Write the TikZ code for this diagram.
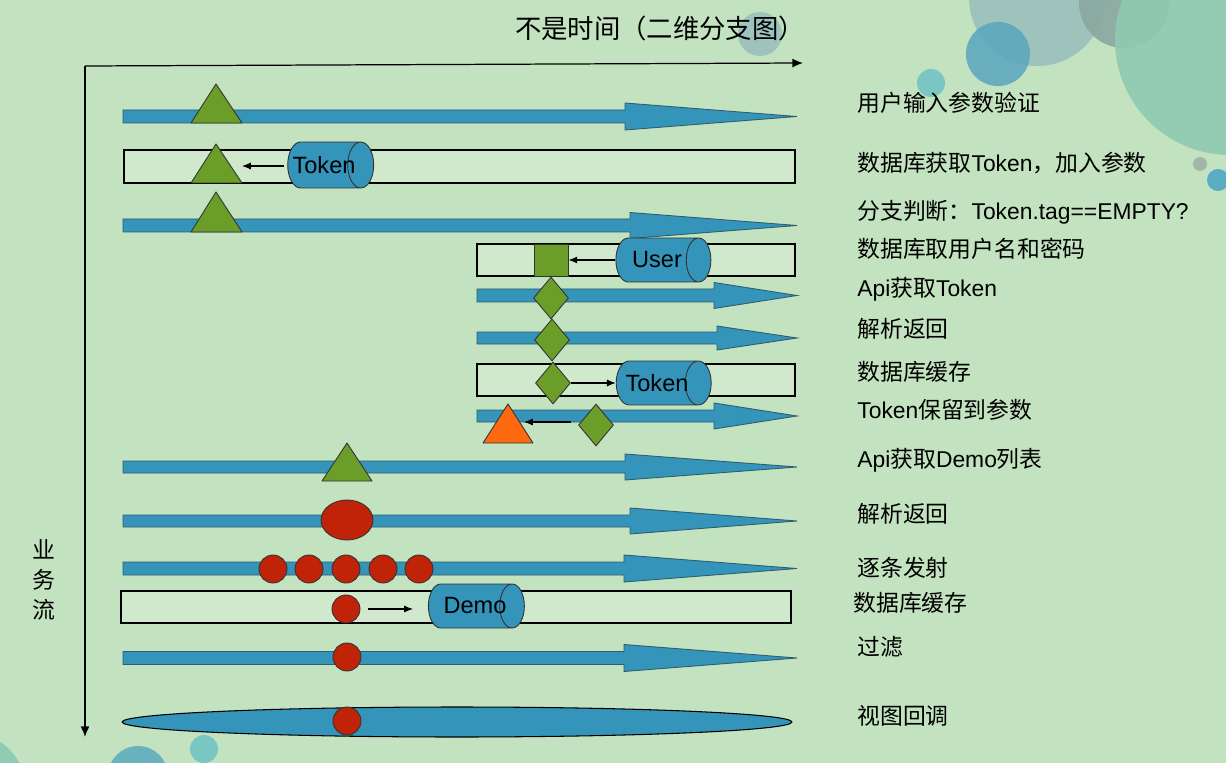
\documentclass[tikz,border=0pt]{standalone}
\usepackage{fontspec}
\setmainfont{Liberation Sans}
\newfontfamily\cjk{Noto Sans CJK SC}
\usetikzlibrary{shapes.geometric,arrows.meta}
\definecolor{bg}{HTML}{C3E2BF}
\definecolor{barlight}{HTML}{D0E8CC}
\definecolor{bblue}{HTML}{3494BA}
\definecolor{bline}{HTML}{2E5E6E}
\definecolor{tgreen}{HTML}{6B9E28}
\definecolor{tred}{HTML}{C02308}
\definecolor{torange}{HTML}{FF6A10}
\begin{document}
\begin{tikzpicture}[x=0.02cm,y=-0.02cm,
  lab/.style={anchor=west,inner sep=0,font=\fontsize{13}{15}\selectfont},
  barrow/.style={fill=bblue,draw=bline,line width=0.5pt},
  barbox/.style={fill=barlight,draw=black,line width=0.6pt},
  tristyle/.style={draw=black!80,line width=0.5pt,line join=round},
  cyl/.style={cylinder,draw=black!80,fill=bblue,shape aspect=1.5,inner sep=0,line width=0.5pt,font=\fontsize{13.4}{15}\selectfont},
  dia/.style={diamond,draw=black!80,fill=tgreen,minimum width=0.7cm,minimum height=0.84cm,inner sep=0,line width=0.5pt},
  dot/.style={circle,draw=black!80,fill=tred,minimum size=0.56cm,inner sep=0,line width=0.5pt},
  conn/.style={-{Latex[length=5pt,width=4pt]},line width=0.6pt},
  axis/.style={-{Latex[length=6pt,width=5pt]},line width=0.7pt}]
\useasboundingbox (0,0) rectangle (1226,763);
\clip (0,0) rectangle (1226,763);
\fill[bg] (0,0) rectangle (1226,763);
% decorations
\fill[color={rgb,255:red,157;green,195;blue,188}] (1037,-2) circle (68);
\fill[color={rgb,255:red,138;green,168;blue,159},fill opacity=0.9] (1124,3) circle (45);
\fill[color={rgb,255:red,142;green,202;blue,176},fill opacity=0.9] (1230,40) circle (115);
\fill[color={rgb,255:red,90;green,166;blue,190},fill opacity=0.85] (998,54) circle (32);
\fill[color={rgb,255:red,122;green,198;blue,194}] (931,83) circle (14);
\fill[color={rgb,255:red,163;green,181;blue,168}] (1200,164) circle (7);
\fill[color={rgb,255:red,90;green,173;blue,194}] (1218,180) circle (11);
\fill[color={rgb,255:red,157;green,195;blue,188}] (760,34) circle (22);
\fill[color={rgb,255:red,144;green,203;blue,179}] (-32,790) circle (58);
\fill[color={rgb,255:red,106;green,178;blue,190}] (138,776) circle (30);
\fill[color={rgb,255:red,122;green,198;blue,194}] (204,749) circle (14);
% title and axes
\node[inner sep=0,font=\fontsize{15}{17}\selectfont\cjk] (title) at (660,28) {不是时间（二维分支图）};
\coordinate (origin) at (85,66);
\coordinate (xend) at (803,63);
\coordinate (yend) at (85,737);
\draw[axis] (origin) -- (xend);
\draw[axis] (origin) -- (yend);
\node[inner sep=0,font=\fontsize{13}{15}\selectfont\cjk,align=center] (flow) at (44,580) {业\\[2pt]务\\[2pt]流};
% light bars
\draw[barbox] (124,150) rectangle (795,183);
\draw[barbox] (477,244) rectangle (795,276);
\draw[barbox] (477,364) rectangle (795,396);
\draw[barbox] (121,591) rectangle (791,623);
% blue arrows
\newcommand\fatarrow[6]{\draw[barrow] (#1,#2-#5) -- (#3,#2-#5) -- (#3,#2-#6) -- (#4,#2) -- (#3,#2+#6) -- (#3,#2+#5) -- (#1,#2+#5) -- cycle;}
\fatarrow{123}{116.5}{625}{797}{6.5}{13.5}
\fatarrow{123}{225.5}{630}{797}{6.5}{13}
\fatarrow{477}{295.5}{714}{797}{6.5}{13}
\fatarrow{477}{338}{717}{797}{6}{12}
\fatarrow{477}{416}{714}{797}{6}{13}
\fatarrow{123}{467}{625}{797}{6}{13}
\fatarrow{123}{521}{630}{797}{6}{13}
\fatarrow{123}{568.5}{624}{797}{6.5}{13.5}
\fatarrow{123}{658}{624}{797}{6.5}{13.5}
\node[ellipse,draw=black,fill=bblue,minimum width=13.4cm,minimum height=0.6cm,inner sep=0,line width=0.6pt] (view) at (457,722) {};
% triangles
\draw[tristyle,fill=tgreen] (216,84) -- (191,123) -- (242,123) -- cycle;
\draw[tristyle,fill=tgreen] (216,144) -- (191,183) -- (242,183) -- cycle;
\draw[tristyle,fill=tgreen] (216,192) -- (191,232) -- (242,232) -- cycle;
\draw[tristyle,fill=torange] (508,404) -- (483,443) -- (533,443) -- cycle;
\draw[tristyle,fill=tgreen] (347,443) -- (322,481) -- (372,481) -- cycle;
\coordinate (tri2) at (242,166);
\coordinate (tri8) at (524,422);
% row 2
\node[cyl,minimum height=1.72cm,minimum width=0.92cm] (tok1) at (324,165) {\makebox[0pt]{Token}};
\draw[conn] ([xshift=-0.06cm]tok1.west |- tri2) -- (tri2);
% row 4
\node[draw=black!80,fill=tgreen,minimum width=0.68cm,minimum height=0.64cm,inner sep=0,line width=0.5pt] (sq) at (551,260) {};
\node[cyl,minimum height=1.9cm,minimum width=0.88cm] (user) at (657,260) {\makebox[0pt]{User}};
\draw[conn] (user.west) -- (sq.east);
% diamonds
\node[dia] (d5) at (551,298) {};
\node[dia] (d6) at (552,340) {};
\node[dia] (d7) at (553,383) {};
\node[dia] (d8) at (596,425) {};
\node[cyl,minimum height=1.9cm,minimum width=0.88cm] (tok2) at (657,383) {\makebox[0pt]{Token}};
\draw[conn] (d7.east) -- (tok2.west);
\draw[conn] ([xshift=-0.15cm]d8.west |- tri8) -- (tri8);
% red items
\node[ellipse,draw=black!80,fill=tred,minimum width=1.04cm,minimum height=0.8cm,inner sep=0,line width=0.5pt] (parse) at (347,520) {};
\node[dot] (e1) at (273,569) {};
\node[dot] (e2) at (309,569) {};
\node[dot] (e3) at (346,569) {};
\node[dot] (e4) at (383,569) {};
\node[dot] (e5) at (419,569) {};
\node[dot] (c12) at (346,609) {};
\node[cyl,minimum height=1.92cm,minimum width=0.88cm] (demo) at (470,606) {\makebox[0pt]{\hspace{0.2cm}Demo}};
\draw[conn,shorten <=0.16cm,shorten >=0.3cm] (c12.east) -- (c12.east -| demo.west);
\node[dot] (f13) at (347,657) {};
\node[dot] (v14) at (347,721) {};
% labels
\node[lab] (l1) at (857,103) {\cjk 用户输入参数验证};
\node[lab] (l2) at (857,163) {{\cjk 数据库获取}Token{\cjk ，加入参数}};
\node[lab] (l3) at (857,212) {{\cjk 分支判断：}Token.tag==EMPTY?};
\node[lab] (l4) at (857,249) {\cjk 数据库取用户名和密码};
\node[lab] (l5) at (857,289) {Api{\cjk 获取}Token};
\node[lab] (l6) at (857,329) {\cjk 解析返回};
\node[lab] (l7) at (857,372) {\cjk 数据库缓存};
\node[lab] (l8) at (857,410) {Token{\cjk 保留到参数}};
\node[lab] (l9) at (857,460) {Api{\cjk 获取}Demo{\cjk 列表}};
\node[lab] (l10) at (857,514) {\cjk 解析返回};
\node[lab] (l11) at (857,568) {\cjk 逐条发射};
\node[lab] (l12) at (853,603) {\cjk 数据库缓存};
\node[lab] (l13) at (857,647) {\cjk 过滤};
\node[lab] (l14) at (857,716) {\cjk 视图回调};
\end{tikzpicture}
\end{document}
